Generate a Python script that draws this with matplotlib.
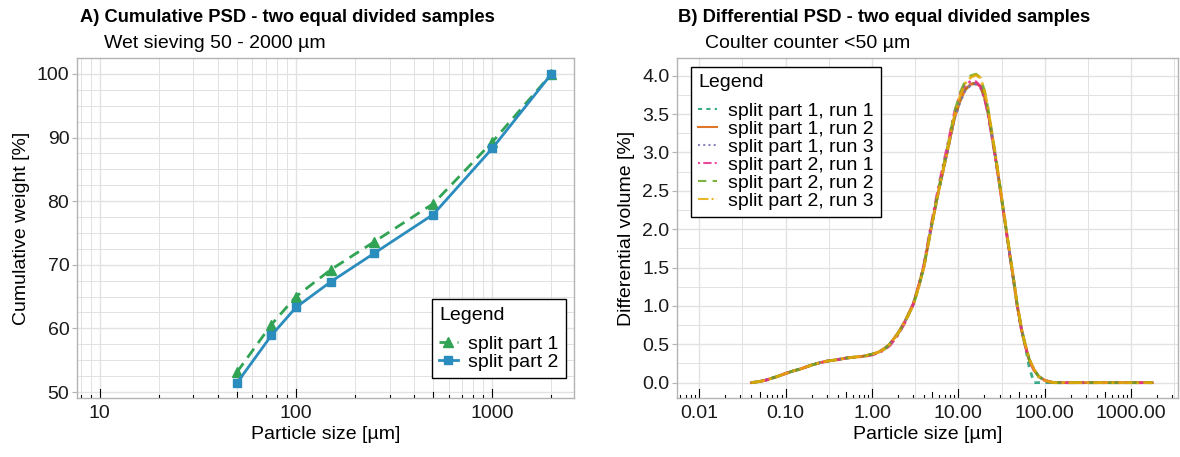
import numpy as np
import matplotlib.pyplot as plt
import matplotlib.transforms as mtransforms
from matplotlib.ticker import FixedLocator, NullFormatter

plt.rcParams['font.family'] = ['Liberation Sans', 'DejaVu Sans']

# ---- panel A: wet sieving, cumulative weight ----
sieve_size = [50, 75, 100, 150, 250, 500, 1000, 2000]
cum_part1 = [53.1, 60.6, 65.0, 69.2, 73.6, 79.6, 89.3, 100.0]
cum_part2 = [51.4, 58.9, 63.3, 67.3, 71.8, 77.9, 88.3, 100.0]

# ---- panel B: coulter counter, differential volume ----
cc_size = [0.04, 0.05, 0.06, 0.07, 0.08, 0.10, 0.12, 0.15, 0.20, 0.25,
           0.30, 0.40, 0.50, 0.60, 0.80, 1.0, 1.2, 1.4, 1.6, 2.0,
           2.4, 3.0, 3.5, 4.0, 4.8, 5.9, 7.4, 9.0, 10.5, 12,
           14, 16, 18, 20, 22, 24, 26.3, 28, 30.7, 33,
           35.6, 38, 41.4, 44, 48, 54, 59, 66, 75, 85,
           100, 115, 130, 200, 400, 800, 1200, 1760]
p1_run1 = [0.00, 0.015, 0.035, 0.06, 0.08, 0.12, 0.15, 0.18, 0.23, 0.26,
           0.28, 0.30, 0.32, 0.33, 0.345, 0.37, 0.40, 0.44, 0.50, 0.64,
           0.79, 1.02, 1.27, 1.52, 2.00, 2.50, 3.00, 3.45, 3.68, 3.82,
           3.89, 3.90, 3.86, 3.72, 3.52, 3.27, 3.00, 2.80, 2.50, 2.25,
           2.00, 1.78, 1.50, 1.30, 1.00, 0.68, 0.50, 0.20, 0.00, 0.00,
           0.00, 0.00, 0.00, 0.00, 0.00, 0.00, 0.00, 0.00]
p1_run2 = [0.00, 0.015, 0.035, 0.06, 0.08, 0.12, 0.15, 0.18, 0.23, 0.26,
           0.28, 0.30, 0.32, 0.33, 0.345, 0.37, 0.40, 0.45, 0.50, 0.65,
           0.80, 1.03, 1.28, 1.53, 2.00, 2.50, 3.00, 3.45, 3.68, 3.82,
           3.89, 3.90, 3.86, 3.72, 3.52, 3.27, 3.00, 2.80, 2.50, 2.25,
           2.00, 1.78, 1.50, 1.30, 1.00, 0.68, 0.50, 0.30, 0.17, 0.08,
           0.03, 0.01, 0.00, 0.00, 0.00, 0.00, 0.00, 0.00]
p1_run3 = [0.00, 0.015, 0.035, 0.06, 0.08, 0.12, 0.15, 0.18, 0.23, 0.26,
           0.28, 0.30, 0.32, 0.33, 0.345, 0.37, 0.40, 0.44, 0.50, 0.64,
           0.79, 1.02, 1.27, 1.52, 2.00, 2.50, 3.00, 3.44, 3.67, 3.81,
           3.88, 3.89, 3.85, 3.72, 3.53, 3.28, 3.01, 2.81, 2.51, 2.26,
           2.01, 1.79, 1.51, 1.31, 1.01, 0.69, 0.50, 0.30, 0.17, 0.08,
           0.03, 0.01, 0.00, 0.00, 0.00, 0.00, 0.00, 0.00]
p2_run1 = [0.00, 0.015, 0.035, 0.06, 0.08, 0.12, 0.15, 0.18, 0.23, 0.26,
           0.28, 0.30, 0.32, 0.33, 0.34, 0.36, 0.39, 0.43, 0.48, 0.62,
           0.78, 1.02, 1.28, 1.55, 2.04, 2.56, 3.07, 3.52, 3.76, 3.88,
           3.93, 3.92, 3.86, 3.71, 3.50, 3.25, 2.98, 2.79, 2.49, 2.24,
           1.99, 1.77, 1.49, 1.29, 0.99, 0.67, 0.49, 0.29, 0.16, 0.08,
           0.03, 0.01, 0.00, 0.00, 0.00, 0.00, 0.00, 0.00]
p2_run2 = [0.00, 0.015, 0.035, 0.06, 0.08, 0.12, 0.15, 0.18, 0.23, 0.26,
           0.28, 0.30, 0.32, 0.33, 0.345, 0.37, 0.40, 0.44, 0.50, 0.64,
           0.79, 1.01, 1.26, 1.52, 2.00, 2.52, 3.04, 3.52, 3.78, 3.93,
           4.00, 4.02, 3.97, 3.80, 3.57, 3.30, 3.02, 2.82, 2.51, 2.26,
           2.01, 1.79, 1.51, 1.31, 1.01, 0.69, 0.50, 0.30, 0.17, 0.08,
           0.03, 0.01, 0.00, 0.00, 0.00, 0.00, 0.00, 0.00]
p2_run3 = [0.00, 0.015, 0.035, 0.06, 0.08, 0.12, 0.15, 0.18, 0.23, 0.26,
           0.28, 0.30, 0.32, 0.33, 0.345, 0.37, 0.40, 0.44, 0.50, 0.64,
           0.79, 1.01, 1.26, 1.51, 1.99, 2.50, 3.01, 3.48, 3.74, 3.90,
           3.98, 4.01, 3.97, 3.81, 3.58, 3.31, 3.03, 2.83, 2.52, 2.27,
           2.02, 1.80, 1.52, 1.32, 1.02, 0.70, 0.51, 0.31, 0.17, 0.08,
           0.03, 0.01, 0.00, 0.00, 0.00, 0.00, 0.00, 0.00]

run_labels = ['split part 1, run 1', 'split part 1, run 2', 'split part 1, run 3',
              'split part 2, run 1', 'split part 2, run 2', 'split part 2, run 3']
run_values = [p1_run1, p1_run2, p1_run3, p2_run1, p2_run2, p2_run3]
run_colors = ['#1B9E77', '#D95F02', '#7570B3', '#E7298A', '#66A61E', '#E6AB02']
run_styles = [(0, (2, 2)), '-', (0, (1, 1.5)), (0, (1, 1.5, 4, 1.5)),
              (0, (4, 3)), (0, (5, 1.5, 1, 1.5))]

GRID = '#E2E2E2'
BORDER = '#B3B3B3'
FS = 14

fig = plt.figure(figsize=(11.8, 4.57), dpi=100)
axA = fig.add_axes([77/1180, 1-398/457, 497/1180, 340/457])
axB = fig.add_axes([677/1180, 1-398/457, 501/1180, 340/457])


def style_axes(ax):
    for s in ax.spines.values():
        s.set_color(BORDER)
        s.set_linewidth(1.0)
    ax.set_axisbelow(True)
    ax.grid(True, which='major', color=GRID, lw=1.0)
    ax.grid(True, which='minor', color=GRID, lw=0.7)
    ax.tick_params(axis='both', which='both', labelsize=FS, colors='#1a1a1a')
    ax.tick_params(axis='y', which='major', length=3.5, color=BORDER, pad=2)
    ax.tick_params(axis='y', which='minor', length=0)
    ax.tick_params(axis='x', which='both', length=0, pad=5)


def log_ticks(ax, lo_dec, hi_dec):
    # ggplot style annotation_logticks along the bottom
    trans = mtransforms.blended_transform_factory(ax.transData, ax.transAxes)
    for d in range(lo_dec, hi_dec + 1):
        for m in range(1, 10):
            v = m * 10.0 ** d
            if m == 1:
                h = 0.027
            elif m == 5:
                h = 0.018
            else:
                h = 0.009
            ax.plot([v, v], [0, h], color='black', lw=0.8, transform=trans,
                    clip_on=True, zorder=1)


def make_legend(ax, **kw):
    leg = ax.legend(title='Legend', borderaxespad=0, fontsize=FS,
                    title_fontsize=FS, fancybox=False, edgecolor='black',
                    framealpha=1, handlelength=0.95, handletextpad=0.55,
                    borderpad=0.38, labelspacing=0.02, **kw)
    leg._legend_box.align = 'left'
    leg._legend_box.sep = 8
    leg.get_frame().set_linewidth(1.0)
    return leg


# ---------------- panel A ----------------
style_axes(axA)
axA.set_xscale('log')
axA.plot(sieve_size, cum_part1, color='#31A354', lw=2, ls=(0, (4, 2.5)),
         marker='^', ms=7, label='split part 1', zorder=3)
axA.plot(sieve_size, cum_part2, color='#2B8CBE', lw=2, ls='-',
         marker='s', ms=6, label='split part 2', zorder=4)
axA.set_xlim(10 ** 0.885, 10 ** 3.416)
axA.set_ylim(49.06, 102.5)
axA.xaxis.set_major_locator(FixedLocator([10, 100, 1000]))
axA.set_xticklabels(['10', '100', '1000'])
axA.xaxis.set_minor_locator(FixedLocator([m * 10.0 ** d for d in range(0, 4)
                                          for m in range(2, 10)]))
axA.xaxis.set_minor_formatter(NullFormatter())
axA.set_yticks([50, 60, 70, 80, 90, 100])
axA.yaxis.set_minor_locator(FixedLocator(np.arange(47.5, 105, 2.5)))
log_ticks(axA, 0, 3)
axA.set_xlabel('Particle size [µm]', fontsize=FS, labelpad=3)
axA.set_ylabel('Cumulative weight [%]', fontsize=FS, labelpad=5)
make_legend(axA, loc='lower right', bbox_to_anchor=(0.984, 0.059))

# ---------------- panel B ----------------
style_axes(axB)
axB.set_xscale('log')
for vals, lab, col, ls in zip(run_values, run_labels, run_colors, run_styles):
    axB.plot(cc_size, vals, color=col, lw=2, ls=ls, alpha=0.85, label=lab)
axB.set_xlim(10 ** -2.258, 10 ** 3.542)
axB.set_ylim(-0.2, 4.23)
axB.xaxis.set_major_locator(FixedLocator([0.01, 0.1, 1, 10, 100, 1000]))
axB.set_xticklabels(['0.01', '0.10', '1.00', '10.00', '100.00', '1000.00'])
axB.xaxis.set_minor_locator(FixedLocator([10 ** (d + 0.5) for d in range(-3, 4)]))
axB.xaxis.set_minor_formatter(NullFormatter())
axB.set_yticks(np.arange(0, 4.01, 0.5))
axB.set_yticklabels(['%.1f' % v for v in np.arange(0, 4.01, 0.5)])
axB.yaxis.set_minor_locator(FixedLocator(np.arange(-0.25, 4.3, 0.5)))
log_ticks(axB, -3, 3)
axB.set_xlabel('Particle size [µm]', fontsize=FS, labelpad=3)
axB.set_ylabel('Differential volume [%]', fontsize=FS, labelpad=5)
legB = make_legend(axB, loc='upper left', bbox_to_anchor=(0.028, 0.974))
for h in legB.get_lines():
    h.set_linewidth(1.5)

# ---------------- titles ----------------
fig.text(80/1180, 1-18/457, 'A) Cumulative PSD - two equal divided samples',
         fontsize=13.2, fontweight='bold', va='center', ha='left')
fig.text(104/1180, 1-44/457, 'Wet sieving 50 - 2000 µm',
         fontsize=FS, va='center', ha='left')
fig.text(678/1180, 1-18/457, 'B) Differential PSD - two equal divided samples',
         fontsize=13.2, fontweight='bold', va='center', ha='left')
fig.text(705/1180, 1-44/457, 'Coulter counter <50 µm',
         fontsize=FS, va='center', ha='left')

fig.savefig('out.png', dpi=100)
